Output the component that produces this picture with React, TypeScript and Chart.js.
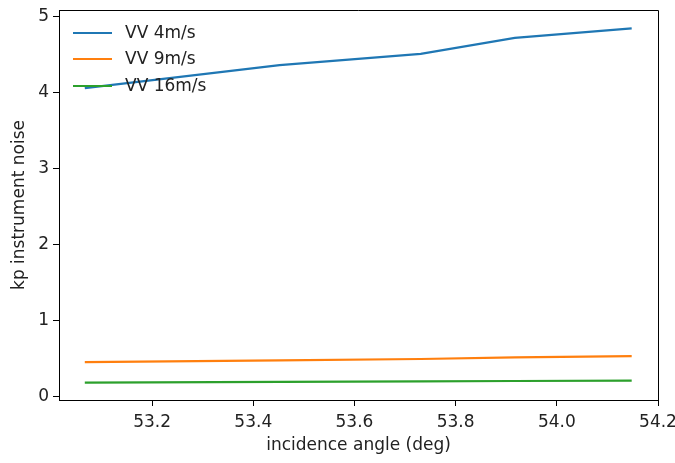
import React, { useEffect, useRef } from "react";
import { Chart, registerables } from "chart.js";

Chart.register(...registerables);

const incidence = [53.067, 53.452, 53.731, 53.917, 54.148];
const vv4 = [4.062, 4.364, 4.513, 4.724, 4.847];
const vv9 = [0.453, 0.478, 0.495, 0.515, 0.532];
const vv16 = [0.184, 0.194, 0.2, 0.205, 0.21];
const seriesNames = ["VV 4m/s", "VV 9m/s", "VV 16m/s"];
const seriesColors = ["#1f77b4", "#ff7f0e", "#2ca02c"];
const xTicks = [53.2, 53.4, 53.6, 53.8, 54.0, 54.2];
const yTicks = [0, 1, 2, 3, 4, 5];
const xTitle = "incidence angle (deg)";
const yTitle = "kp instrument noise";

const FONT = "DejaVu Sans";
const FS = 17;

const frameAndLegend = {
  id: "frameAndLegend",
  afterDatasetsDraw(chart: any) {
    const ctx = chart.ctx;
    const a = chart.chartArea;
    ctx.save();
    ctx.strokeStyle = "#000";
    ctx.lineWidth = 1;
    ctx.beginPath();
    ctx.moveTo(a.left, a.top + 0.5);
    ctx.lineTo(a.right + 0.5, a.top + 0.5);
    ctx.lineTo(a.right + 0.5, a.bottom);
    ctx.stroke();
    // legend (no frame), drawn on top of lines
    const rows = [33, 59, 86];
    ctx.font = `${FS}px "${FONT}"`;
    ctx.textBaseline = "middle";
    ctx.textAlign = "left";
    seriesNames.forEach((name, i) => {
      const y = rows[i];
      ctx.strokeStyle = seriesColors[i];
      ctx.lineWidth = 2.2;
      ctx.beginPath();
      ctx.moveTo(73, y);
      ctx.lineTo(112, y);
      ctx.stroke();
      ctx.fillStyle = "#222";
      ctx.fillText(name, 125, y + 1);
    });
    ctx.restore();
  },
};

export default function App() {
  const ref = useRef<HTMLCanvasElement | null>(null);
  useEffect(() => {
    document.body.style.margin = "0";
    const canvas = ref.current!;
    const series = [vv4, vv9, vv16];
    const chart = new Chart(canvas, {
      type: "line",
      data: {
        datasets: series.map((vals, i) => ({
          label: seriesNames[i],
          data: vals.map((v, j) => ({ x: incidence[j], y: v })),
          borderColor: seriesColors[i],
          backgroundColor: seriesColors[i],
          borderWidth: 2.2,
          pointRadius: 0,
          tension: 0,
          fill: false,
        })),
      },
      options: {
        responsive: false,
        animation: false,
        devicePixelRatio: 1,
        layout: { padding: { top: 10, right: 17, left: 0, bottom: 0 } },
        plugins: { legend: { display: false }, tooltip: { enabled: false } },
        scales: {
          x: {
            type: "linear",
            min: 53.016,
            max: 54.2,
            afterBuildTicks: (s: any) => {
              s.ticks = xTicks.map((v) => ({ value: v }));
            },
            afterFit: (s: any) => {
              s.height = 63;
              s.paddingLeft = 0;
              s.paddingRight = 0;
            },
            ticks: {
              autoSkip: false,
              maxRotation: 0,
              padding: 6,
              color: "#222",
              font: { family: FONT, size: FS },
              callback: (v: any) => Number(v).toFixed(1),
            },
            grid: { drawOnChartArea: false, drawTicks: true, tickLength: 6, color: "#000" },
            border: { display: true, color: "#000", width: 1 },
            title: {
              display: true,
              text: xTitle,
              color: "#222",
              font: { family: FONT, size: FS },
              padding: { top: 7, bottom: 7 },
            },
          },
          y: {
            type: "linear",
            min: -0.045,
            max: 5.09,
            afterBuildTicks: (s: any) => {
              s.ticks = yTicks.map((v) => ({ value: v }));
            },
            afterFit: (s: any) => {
              s.width = 59;
              s.paddingTop = 0;
              s.paddingBottom = 0;
            },
            ticks: {
              autoSkip: false,
              padding: 4,
              color: "#222",
              font: { family: FONT, size: FS },
              callback: (v: any) => String(v),
            },
            grid: { drawOnChartArea: false, drawTicks: true, tickLength: 6, color: "#000" },
            border: { display: true, color: "#000", width: 1 },
            title: {
              display: true,
              text: yTitle,
              color: "#222",
              font: { family: FONT, size: FS },
              padding: { top: 9, bottom: 9 },
            },
          },
        },
      },
      plugins: [frameAndLegend],
    } as any);
    return () => chart.destroy();
  }, []);
  return (
    <div style={{ width: 675, height: 463, background: "#fff" }}>
      <canvas ref={ref} width={675} height={463} style={{ display: "block" }} />
    </div>
  );
}
